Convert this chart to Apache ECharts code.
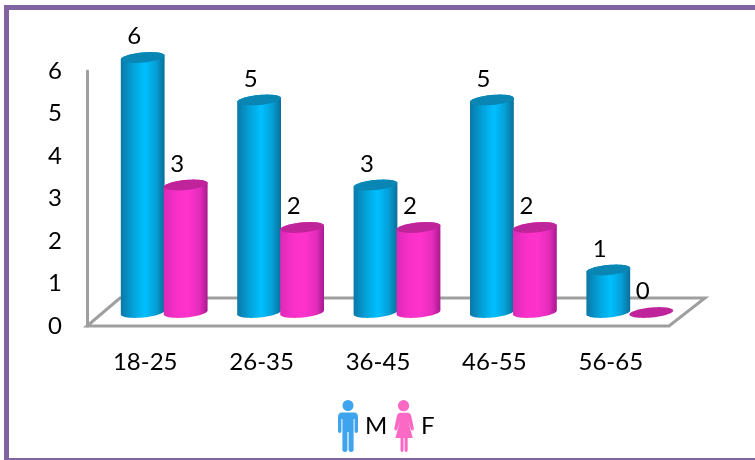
<!DOCTYPE html>
<html>
<head>
<meta charset="utf-8">
<style>html,body{margin:0;background:#fff}#chart{width:755px;height:460px}</style>
<script src="https://cdn.jsdelivr.net/npm/echarts@6/dist/echarts.min.js"></script>
</head>
<body>
<div id="chart"></div>
<script>
// Respondents by age group and gender
const ageGroups = ['18-25', '26-35', '36-45', '46-55', '56-65'];
const maleCounts = [6, 5, 3, 5, 1];
const femaleCounts = [3, 2, 2, 2, 0];
const yTicks = [0, 1, 2, 3, 4, 5, 6];

const MAN_ICON = 'path://M10 0a5.500 5.500 0 1 1 0 11a5.500 5.500 0 1 1 0-11z M4 12.500h12q4 0 4 4.500v14q0 2-1.700 2t-1.700-2v-12h-1v31q0 2-2.500 2t-2.500-2v-18h-1.200v18q0 2-2.500 2t-2.500-2v-31h-1v12q0 2-1.700 2t-1.700-2v-14q0-4.500 4-4.500z';
const WOMAN_ICON = 'path://M10 0a5.500 5.500 0 1 1 0 11a5.500 5.500 0 1 1 0-11z M6 12.500h8q2.500 0 3.500 3l2.500 12q.300 2-1 2.300t-2-1.500l-2.500-7.300 4.500 16h-5v12q0 1.700-1.500 1.700t-1.500-1.700v-12h-1v12q0 1.700-1.500 1.700t-1.500-1.700v-12h-5l4.500-16-2.500 7.300q-.700 1.800-2 1.500t-1-2.300l2.500-12q1-3 3.500-3z';

const BAR_WIDTH = 44;
const DEPTH_X = 33;      // horizontal shift of the floor's back edge
const DEPTH_Y = 28;      // vertical shift of the floor's back edge
const BASE_LIFT = 13.5;  // cylinders stand mid-way across the floor
const TILT = -5.5 * Math.PI / 180;
const RY = 5;
const FONT = 'Lato';
const FONT_SIZE = 24;

const blueBody = () => new echarts.graphic.LinearGradient(0, 0, 1, 0, [
  { offset: 0, color: '#0a78a6' }, { offset: 0.3, color: '#03a4dc' },
  { offset: 0.55, color: '#00bfff' }, { offset: 0.8, color: '#059fd6' }, { offset: 1, color: '#0a6f9a' }
]);
const pinkBody = () => new echarts.graphic.LinearGradient(0, 0, 1, 0, [
  { offset: 0, color: '#dc2ab8' }, { offset: 0.3, color: '#f930c8' },
  { offset: 0.55, color: '#ff33cc' }, { offset: 0.82, color: '#e42cbc' }, { offset: 1, color: '#a81a8e' }
]);

// Point on the tilted ellipse that caps a cylinder
function ellipsePt(cx, cy, rx, a) {
  const ex = rx * Math.cos(a), ey = RY * Math.sin(a);
  return [cx + ex * Math.cos(TILT) - ey * Math.sin(TILT), cy + ex * Math.sin(TILT) + ey * Math.cos(TILT)];
}
function ellipsePts(cx, cy, rx) {
  const pts = [];
  for (let i = 0; i < 48; i++) pts.push(ellipsePt(cx, cy, rx, i / 48 * Math.PI * 2));
  return pts;
}

function cylinder(shiftX, bodyFill, cap) {
  return function (params, api) {
    const value = api.value(1);
    const [cx0, y0] = api.coord([api.value(0), value]);
    const base = api.coord([api.value(0), 0])[1] - BASE_LIFT;
    const top = y0 - BASE_LIFT;
    const cx = cx0 + shiftX;
    const rx = BAR_WIDTH / 2;
    const children = [];
    if (value > 0) {
      const outline = [];
      for (let i = 0; i <= 24; i++) outline.push(ellipsePt(cx, base, rx, i / 24 * Math.PI));
      for (let i = 0; i <= 24; i++) outline.push(ellipsePt(cx, top, rx, Math.PI + i / 24 * Math.PI));
      children.push({ type: 'polygon', shape: { points: outline }, style: { fill: bodyFill() } });
    }
    children.push({ type: 'polygon', shape: { points: ellipsePts(cx, top, rx) }, style: { fill: cap } });
    children.push({
      type: 'text',
      style: {
        text: String(value), x: cx - 8.5, y: top - 21, align: 'center', verticalAlign: 'middle',
        fontFamily: FONT, fontSize: FONT_SIZE, fill: '#000'
      }
    });
    return { type: 'group', children };
  };
}

// Perspective floor behind the cylinders
function floor(params, api) {
  const y = api.coord([0, 0])[1];
  const left = params.coordSys.x;
  const right = left + params.coordSys.width;
  const pts = [[left, y], [right, y], [right + DEPTH_X + 3, y - DEPTH_Y], [left + DEPTH_X, y - DEPTH_Y]];
  return { type: 'polygon', shape: { points: pts }, style: { fill: '#fff', stroke: '#9f9f9f', lineWidth: 3 } };
}

const toRows = arr => arr.map((v, i) => [i, v]);

const chart = echarts.init(document.getElementById('chart'), null, { renderer: 'canvas' });
chart.setOption({
  animation: false,
  backgroundColor: '#fff',
  textStyle: { fontFamily: FONT },
  graphic: [
    { type: 'rect', shape: { x: 4, y: 5, width: 751, height: 5 }, style: { fill: '#8064a2' } },
    { type: 'rect', shape: { x: 4, y: 5, width: 5, height: 455 }, style: { fill: '#8064a2' } },
    { type: 'rect', shape: { x: 4, y: 458, width: 751, height: 2 }, style: { fill: '#8064a2' } }
  ],
  grid: { left: 87, right: 86, top: 71, bottom: 134 },
  legend: {
    left: 338, top: 400, itemWidth: 20, itemHeight: 52, itemGap: 7, selectedMode: false, padding: 0,
    textStyle: { fontFamily: FONT, fontSize: FONT_SIZE, color: '#000', padding: [0, 0, 0, 2] },
    data: [
      { name: 'M', icon: MAN_ICON, itemStyle: { color: '#3fa4ee' } },
      { name: 'F', icon: WOMAN_ICON, itemStyle: { color: '#fb69c4' } }
    ]
  },
  xAxis: {
    type: 'category', data: ageGroups,
    axisLine: { show: false }, axisTick: { show: false },
    axisLabel: { color: '#000', fontSize: FONT_SIZE, margin: 24, fontFamily: FONT }
  },
  yAxis: {
    type: 'value', min: 0, max: 6, interval: 1,
    splitLine: { show: false }, axisTick: { show: false },
    axisLine: { show: true, lineStyle: { color: '#9f9f9f', width: 3 } },
    axisLabel: { color: '#000', fontSize: FONT_SIZE, margin: 25, fontFamily: FONT, padding: [9, 0, 0, 0],
      formatter: v => yTicks.includes(v) ? String(v) : '' }
  },
  series: [
    { type: 'custom', name: 'floor', silent: true, z: 1, data: [[0, 0]], renderItem: floor, encode: { x: 0, y: 1 } },
    { type: 'custom', name: 'M', z: 3, data: toRows(maleCounts), encode: { x: 0, y: 1 },
      itemStyle: { color: '#3fa4ee' },
      renderItem: cylinder(-2.5, blueBody, '#0a86b4') },
    { type: 'custom', name: 'F', z: 4, data: toRows(femaleCounts), encode: { x: 0, y: 1 },
      itemStyle: { color: '#fb69c4' },
      renderItem: cylinder(40.5, pinkBody, '#c0249b') }
  ]
});
</script>
</body>
</html>
